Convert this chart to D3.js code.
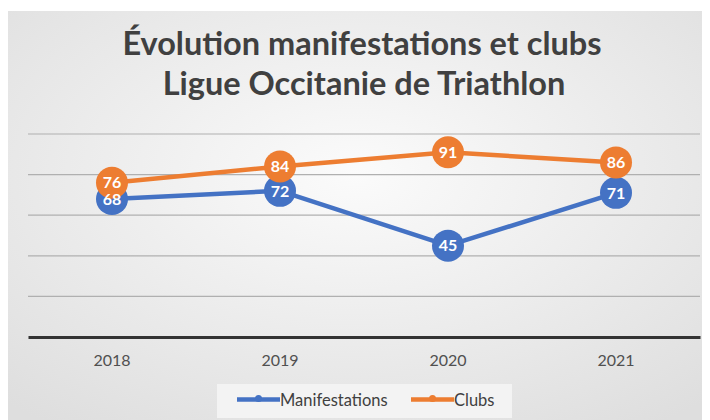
<!DOCTYPE html>
<html><head><meta charset="utf-8">
<script src="https://cdn.jsdelivr.net/npm/d3@7"></script>
<style>body{margin:0;background:#fff}svg{display:block}</style>
</head><body>
<svg id="c" width="710" height="420"></svg>
<script>
const years = ["2018","2019","2020","2021"];
const manifestations = [68,72,45,71];
const clubs = [76,84,91,86];
const yTicks = [0,20,40,60,80,100];
const seriesNames = ["Manifestations","Clubs"];
const colors = ["#4472C4","#ED7D31"];

const svg = d3.select("#c");
const defs = svg.append("defs");
const rg = defs.append("radialGradient").attr("id","bg").attr("cx","50%").attr("cy","40%").attr("r","75%");
rg.append("stop").attr("offset","0%").attr("stop-color","#fbfbfb");
rg.append("stop").attr("offset","100%").attr("stop-color","#dedede");
svg.append("rect").attr("x",8).attr("y",11).attr("width",694).attr("height",409).attr("fill","url(#bg)");

svg.append("text").attr("x",362).attr("y",55).attr("text-anchor","middle")
  .attr("font-family","Lato").attr("font-weight","bold").attr("font-size",32.5).attr("fill","#404040")
  .text("Évolution manifestations et clubs");
svg.append("text").attr("x",364).attr("y",95).attr("text-anchor","middle")
  .attr("font-family","Lato").attr("font-weight","bold").attr("font-size",32.5).attr("fill","#404040")
  .text("Ligue Occitanie de Triathlon");

const x = d3.scaleBand().domain(years).range([28,700]);
const y = d3.scaleLinear().domain([0,100]).range([337,134]);

const grid = svg.append("g");
grid.selectAll("line").data(yTicks.filter(d=>d>0)).join("line")
  .attr("x1",28).attr("x2",700).attr("y1",d=>y(d)).attr("y2",d=>y(d))
  .attr("stroke","#b0b0b0").attr("stroke-width",1.2);

const xa = svg.append("g").attr("transform","translate(0,337)").call(d3.axisBottom(x).tickSize(0).tickPadding(17.5));
xa.select(".domain").attr("stroke","#333").attr("stroke-width",3);
xa.selectAll("text").attr("font-family","Lato").attr("font-size",16).attr("fill","#505050");

const series = [manifestations, clubs];
const cx = i => x(years[i]) + x.bandwidth()/2;
const line = d3.line().x((d,i)=>cx(i)).y(d=>y(d));
series.forEach((s,k)=>{
  const g = svg.append("g");
  g.append("path").attr("d",line(s)).attr("fill","none").attr("stroke",colors[k]).attr("stroke-width",4.5).attr("stroke-linejoin","round");
  g.selectAll("circle").data(s).join("circle")
    .attr("cx",(d,i)=>cx(i)).attr("cy",d=>y(d)).attr("r",16).attr("fill",colors[k]);
});
series.forEach((s,k)=>{
  svg.append("g").selectAll("text").data(s).join("text")
    .attr("x",(d,i)=>cx(i)).attr("y",d=>y(d)).attr("text-anchor","middle").attr("dy","0.36em")
    .attr("font-family","Lato").attr("font-weight","bold").attr("font-size",16).attr("fill","#fff").text(d=>d);
});

// legend
svg.append("rect").attr("x",217).attr("y",384).attr("width",295).attr("height",34).attr("fill","#f3f3f3");
const lx = [237,411];
seriesNames.forEach((n,k)=>{
  const g = svg.append("g").attr("transform",`translate(${lx[k]},399.5)`);
  g.append("line").attr("x1",0).attr("x2",43).attr("stroke",colors[k]).attr("stroke-width",4.5);
  g.append("circle").attr("cx",21.5).attr("r",3.5).attr("cy",-1).attr("fill",colors[k]);
  g.append("text").attr("x",43).attr("y",6).attr("font-family","Lato").attr("font-size",16.5).attr("fill","#404040").text(n);
});
</script>
</body></html>
